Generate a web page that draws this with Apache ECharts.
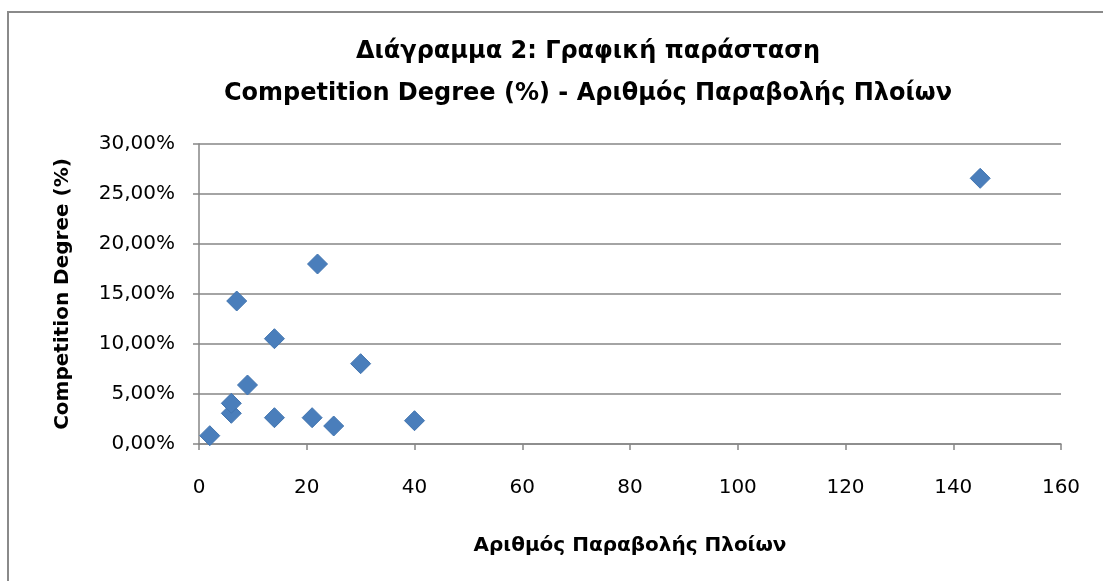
<!DOCTYPE html>
<html>
<head>
<meta charset="utf-8">
<script src="https://cdn.jsdelivr.net/npm/echarts@6/dist/echarts.min.js"></script>
<style>
  html, body { margin: 0; padding: 0; background: #fff; }
  #chart { width: 1103px; height: 581px; }
</style>
</head>
<body>
<div id="chart"></div>
<script>
// Number of ship berthings (x) and competition degree in percent (y)
const berthings = [2, 6, 6, 7, 9, 14, 14, 21, 22, 25, 30, 40, 145];
const competitionPct = [0.83, 3.07, 4.07, 14.3, 5.9, 10.53, 2.63, 2.63, 18.0, 1.8, 8.03, 2.33, 26.57];

const titleLines = ['Διάγραμμα 2: Γραφική παράσταση', 'Competition Degree (%) - Αριθμός Παραβολής Πλοίων'];
const xAxisName = 'Αριθμός Παραβολής Πλοίων';
const yAxisName = 'Competition Degree (%)';

const FONT = 'DejaVu Sans';
const points = berthings.map((b, i) => [b, competitionPct[i]]);

const chart = echarts.init(document.getElementById('chart'));
chart.setOption({
  animation: false,
  backgroundColor: '#ffffff',
  graphic: [{
    type: 'rect',
    shape: { x: 8, y: 12, width: 1200, height: 700 },
    style: { fill: 'none', stroke: '#8a8a8a', lineWidth: 2 },
    silent: true
  }],
  title: {
    text: titleLines.join('\n'),
    left: 583,
    top: 26,
    textAlign: 'center',
    textStyle: { fontFamily: FONT, fontWeight: 'bold', fontSize: 24, lineHeight: 42, color: '#000' }
  },
  grid: { left: 199, right: 42, top: 144, bottom: 137 },
  xAxis: {
    type: 'value',
    min: 0, max: 160, interval: 20,
    name: xAxisName,
    nameLocation: 'middle',
    nameGap: 92,
    nameTextStyle: { fontFamily: FONT, fontWeight: 'bold', fontSize: 20, color: '#000' },
    axisLine: { lineStyle: { color: '#868686', width: 1.5 } },
    axisTick: { show: true, length: 6, inside: false, lineStyle: { color: '#868686', width: 1.5 } },
    axisLabel: { fontFamily: FONT, fontSize: 20, color: '#000', margin: 34 },
    splitLine: { show: false }
  },
  yAxis: {
    type: 'value',
    min: 0, max: 30, interval: 5,
    name: yAxisName,
    nameLocation: 'middle',
    nameGap: 126,
    nameRotate: 90,
    nameTextStyle: { fontFamily: FONT, fontWeight: 'bold', fontSize: 20, color: '#000' },
    axisLine: { show: true, lineStyle: { color: '#868686', width: 1.5 } },
    axisTick: { show: true, length: 6, lineStyle: { color: '#868686', width: 1.5 } },
    axisLabel: {
      fontFamily: FONT, fontSize: 20, color: '#000', margin: 24,
      formatter: v => v.toFixed(2).replace('.', ',') + '%'
    },
    splitLine: { show: true, lineStyle: { color: '#868686', width: 1.5 } }
  },
  series: [{
    type: 'scatter',
    data: points,
    symbol: 'diamond',
    symbolSize: 20,
    itemStyle: { color: '#4a7ebb', opacity: 1, borderColor: '#4275b0', borderWidth: 1 }
  }]
});
</script>
</body>
</html>
